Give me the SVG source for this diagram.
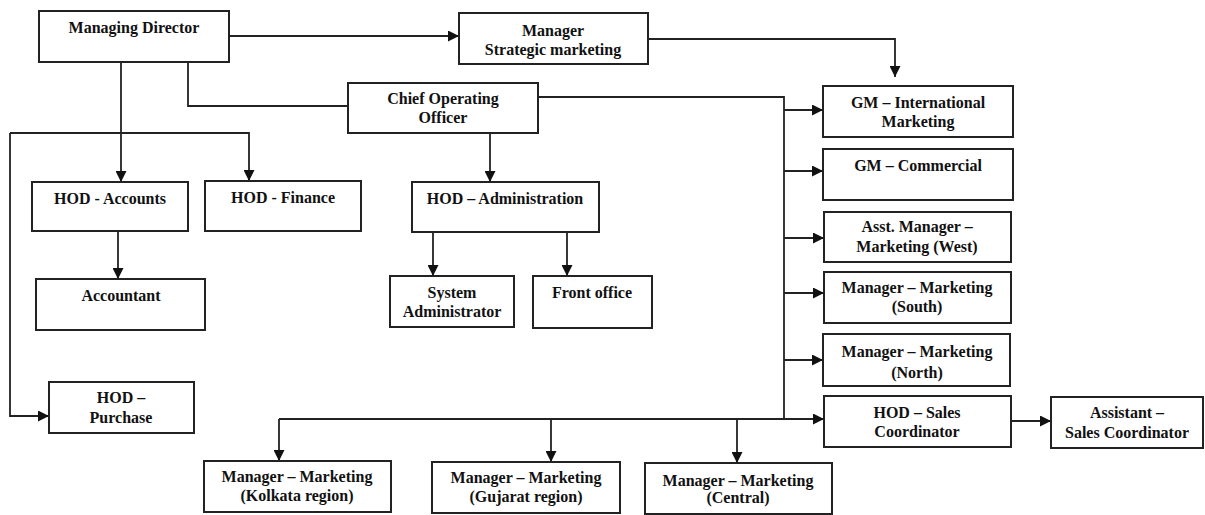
<svg xmlns="http://www.w3.org/2000/svg" width="1205" height="515" viewBox="0 0 1205 515">
<style>
.box{fill:#fff;stroke:#222;stroke-width:2}
.t{font-family:"Liberation Serif","Times New Roman",serif;font-weight:bold;font-size:16px;fill:#111;text-anchor:middle}
.c{fill:none;stroke:#222;stroke-width:1.8}
.a{marker-end:url(#ah)}
</style>
<defs>
<marker id="ah" markerUnits="userSpaceOnUse" markerWidth="11" markerHeight="11" refX="11" refY="5.5" orient="auto">
<path d="M0,0 L11,5.5 L0,11 z" fill="#111"/>
</marker>
</defs>
<rect width="1205" height="515" fill="#fff"/>
<g id="connectors">
<path class="c a" d="M229,36 H459"/>
<path class="c a" d="M648,39 H895 V77"/>
<path class="c a" d="M121,62 V182"/>
<path class="c" d="M188,62 V106 H348"/>
<path class="c a" d="M10,133 V416 H49"/>
<path class="c a" d="M10,133 H249 V181"/>
<path class="c a" d="M118,231 V279"/>
<path class="c a" d="M490,133 V182"/>
<path class="c a" d="M433,232 V276"/>
<path class="c a" d="M567,232 V276"/>
<path class="c" d="M538,97 H784 V419"/>
<path class="c a" d="M784,110 H823"/>
<path class="c a" d="M784,171 H823"/>
<path class="c a" d="M784,238 H824"/>
<path class="c a" d="M784,293 H824"/>
<path class="c a" d="M784,360 H823"/>
<path class="c a" d="M279,419 H824"/>
<path class="c a" d="M279,419 V461"/>
<path class="c a" d="M551,419 V462"/>
<path class="c a" d="M737,419 V463"/>
<path class="c a" d="M1011,421 H1051"/>
</g>
<g id="md"><rect class="box" x="39" y="11" width="190" height="51"/><text class="t" x="134" y="33">Managing Director</text></g>
<g id="msm"><rect class="box" x="459" y="13" width="189" height="51"/><text class="t" x="553" y="36">Manager</text><text class="t" x="553" y="55">Strategic marketing</text></g>
<g id="coo"><rect class="box" x="348" y="83" width="190" height="50"/><text class="t" x="443" y="104">Chief Operating</text><text class="t" x="443" y="123">Officer</text></g>
<g id="hod-accounts"><rect class="box" x="32" y="182" width="156" height="49"/><text class="t" x="110" y="204">HOD - Accounts</text></g>
<g id="hod-finance"><rect class="box" x="205" y="181" width="156" height="50"/><text class="t" x="283" y="203">HOD - Finance</text></g>
<g id="hod-admin"><rect class="box" x="412" y="182" width="187" height="50"/><text class="t" x="505" y="204">HOD – Administration</text></g>
<g id="accountant"><rect class="box" x="36" y="279" width="169" height="51"/><text class="t" x="121" y="301">Accountant</text></g>
<g id="sysadmin"><rect class="box" x="390" y="276" width="124" height="51"/><text class="t" x="452" y="298">System</text><text class="t" x="452" y="317">Administrator</text></g>
<g id="frontoffice"><rect class="box" x="533" y="276" width="119" height="52"/><text class="t" x="592" y="298">Front office</text></g>
<g id="hod-purchase"><rect class="box" x="49" y="382" width="145" height="51"/><text class="t" x="121" y="403">HOD –</text><text class="t" x="121" y="423">Purchase</text></g>
<g id="gm-intl"><rect class="box" x="823" y="86" width="190" height="51"/><text class="t" x="918" y="108">GM – International</text><text class="t" x="918" y="127">Marketing</text></g>
<g id="gm-comm"><rect class="box" x="823" y="149" width="190" height="51"/><text class="t" x="918" y="171">GM – Commercial</text></g>
<g id="asst-west"><rect class="box" x="824" y="212" width="187" height="50"/><text class="t" x="917" y="232">Asst. Manager –</text><text class="t" x="917" y="252">Marketing (West)</text></g>
<g id="mgr-south"><rect class="box" x="824" y="272" width="187" height="51"/><text class="t" x="917" y="293">Manager – Marketing</text><text class="t" x="917" y="312">(South)</text></g>
<g id="mgr-north"><rect class="box" x="823" y="334" width="187" height="52"/><text class="t" x="917" y="357">Manager – Marketing</text><text class="t" x="917" y="378">(North)</text></g>
<g id="hod-sales"><rect class="box" x="824" y="396" width="187" height="51"/><text class="t" x="917" y="418">HOD – Sales</text><text class="t" x="917" y="437">Coordinator</text></g>
<g id="asst-sales"><rect class="box" x="1051" y="397" width="152" height="51"/><text class="t" x="1127" y="418">Assistant –</text><text class="t" x="1127" y="438">Sales Coordinator</text></g>
<g id="mgr-kolkata"><rect class="box" x="204" y="461" width="187" height="51"/><text class="t" x="297" y="482">Manager – Marketing</text><text class="t" x="297" y="501">(Kolkata region)</text></g>
<g id="mgr-gujarat"><rect class="box" x="432" y="462" width="188" height="51"/><text class="t" x="526" y="483">Manager – Marketing</text><text class="t" x="526" y="502">(Gujarat region)</text></g>
<g id="mgr-central"><rect class="box" x="645" y="463" width="187" height="51"/><text class="t" x="738" y="486">Manager – Marketing</text><text class="t" x="738" y="503">(Central)</text></g>
</svg>
